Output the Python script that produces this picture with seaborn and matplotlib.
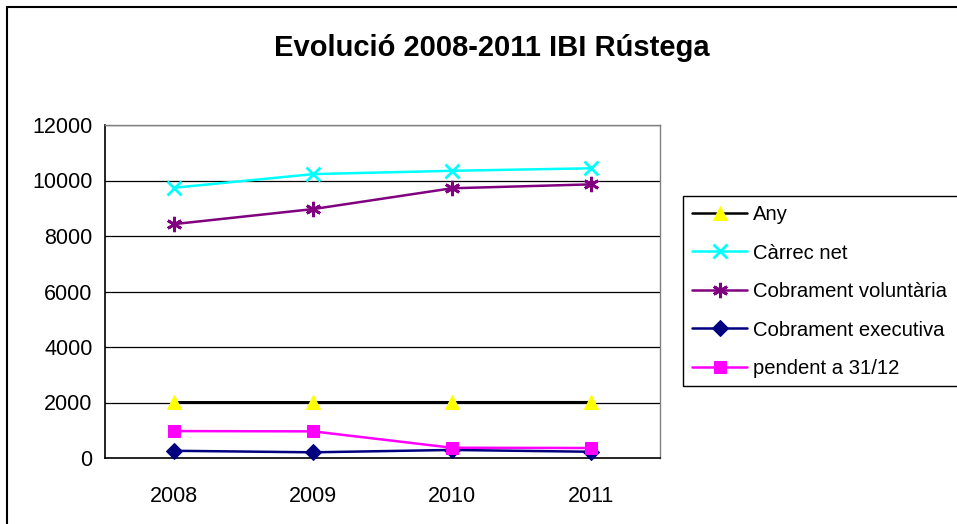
import numpy as np
import pandas as pd
import matplotlib
matplotlib.use("Agg")
import matplotlib.pyplot as plt
import matplotlib.patches as mpatches
import seaborn as sns

years = [2008, 2009, 2010, 2011]
year_labels = ["2008", "2009", "2010", "2011"]
any_vals = [2008, 2009, 2010, 2011]
carrec_net = [9740, 10230, 10350, 10440]
cobr_voluntaria = [8430, 8970, 9720, 9860]
cobr_executiva = [260, 205, 290, 225]
pendent = [970, 960, 370, 360]

series_names = ["Any", "Càrrec net", "Cobrament voluntària", "Cobrament executiva", "pendent a 31/12"]
title = "Evolució 2008-2011 IBI Rústega"
y_ticks = [0, 2000, 4000, 6000, 8000, 10000, 12000]

sns.set_style("white")
plt.rcParams["font.family"] = ["Liberation Sans", "DejaVu Sans"]
plt.rcParams["text.color"] = "black"
plt.rcParams["xtick.color"] = "black"
plt.rcParams["ytick.color"] = "black"
plt.rcParams["axes.labelcolor"] = "black"

W, H = 957, 524
fig = plt.figure(figsize=(W / 100, H / 100), dpi=100)
ax = fig.add_axes([105 / W, 1 - 458 / H, (660 - 105) / W, (458 - 125) / H])

styles = [
    dict(color="black", marker="^", markerfacecolor="#FFFF00", markeredgecolor="#FFFF00", markersize=10),
    dict(color="#00FFFF", marker="x", markeredgecolor="#00FFFF", markersize=10, markeredgewidth=2),
    dict(color="#800080", marker=(6, 2, 0), markeredgecolor="#800080", markersize=11, markeredgewidth=2),
    dict(color="#000080", marker="D", markerfacecolor="#000080", markeredgecolor="#000080", markersize=8),
    dict(color="#FF00FF", marker="s", markerfacecolor="#FF00FF", markeredgecolor="#FF00FF", markersize=9),
]
all_vals = [any_vals, carrec_net, cobr_voluntaria, cobr_executiva, pendent]

# gridlines
for t in y_ticks[1:]:
    ax.axhline(t, color="black", lw=0.9, zorder=1)

for name, vals, st in zip(series_names, all_vals, styles):
    df = pd.DataFrame({"year": years, "value": vals})
    sns.lineplot(data=df, x="year", y="value", ax=ax, label=name, linewidth=1.8,
                 zorder=3, clip_on=False, **st)

ax.set_xlim(2007.5, 2011.5)
ax.set_ylim(0, 12000)
ax.set_yticks(y_ticks)
ax.set_yticklabels([str(t) for t in y_ticks], fontsize=15.5)
ax.set_xticks([2007.5, 2008.5, 2009.5, 2010.5, 2011.5])
ax.set_xticklabels([""] * 5)
ax.set_xticks(years, minor=True)
ax.set_xticklabels(year_labels, minor=True, fontsize=15.5)
ax.tick_params(axis="x", which="major", direction="out", length=5, width=1, color="black")
ax.tick_params(axis="x", which="minor", length=0, pad=20)
ax.tick_params(axis="y", direction="out", length=5, width=1, color="black", pad=4)
ax.set_xlabel("")
ax.set_ylabel("")

for s in ["left", "bottom"]:
    ax.spines[s].set_color("black")
    ax.spines[s].set_linewidth(1.2)
for s in ["top", "right"]:
    ax.spines[s].set_color("#808080")
    ax.spines[s].set_linewidth(1.0)

leg = ax.legend(loc="upper left", bbox_to_anchor=(683 / W, 1 - 196 / H), bbox_transform=fig.transFigure,
                borderaxespad=0, fontsize=14.6, frameon=False, handlelength=2.7,
                handletextpad=0.3, labelspacing=0.96, borderpad=0.45)
for t in leg.get_texts():
    t.set_color("black")

# legend box (extends past the right edge as in the reference)
fig.patches.append(mpatches.Rectangle((683 / W, 1 - 386 / H), 0.5, (386 - 196) / H, transform=fig.transFigure,
                                      fill=False, edgecolor="black", linewidth=1.0))

fig.text(492 / W, 1 - 48 / H, title, ha="center", va="center", fontsize=21, fontweight="bold", color="black")

# chart area border
fig.patches.append(mpatches.Rectangle((7 / W, -0.1), 1.2, 1 - 7 / H + 0.1, transform=fig.transFigure,
                                      fill=False, edgecolor="black", linewidth=1.5))

fig.savefig("out.png", dpi=100)
